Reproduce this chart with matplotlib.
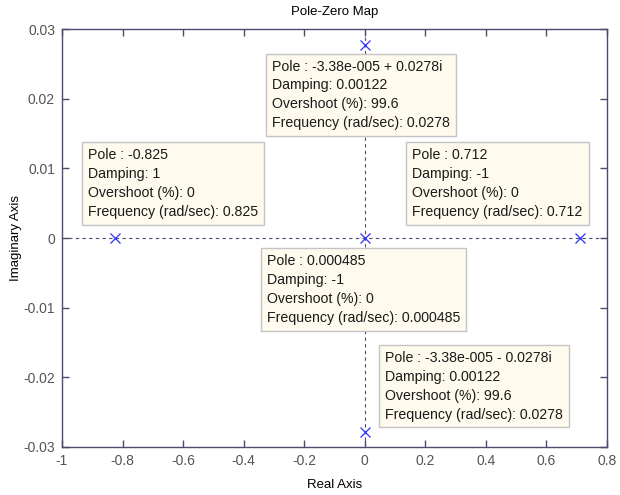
import numpy as np
import matplotlib
matplotlib.use("Agg")
import matplotlib.pyplot as plt

plt.rcParams["font.family"] = ["Liberation Sans", "DejaVu Sans"]

# poles of the system
pole_re = [-0.825, 0.712, 0.000485, -3.38e-5, -3.38e-5]
pole_im = [0.0, 0.0, 0.0, 0.0278, -0.0278]
damping = ["1", "-1", "-1", "0.00122", "0.00122"]
overshoot = ["0", "0", "0", "99.6", "99.6"]
freq = ["0.825", "0.712", "0.000485", "0.0278", "0.0278"]
pole_txt = ["-0.825", "0.712", "0.000485", "-3.38e-005 + 0.0278i", "-3.38e-005 - 0.0278i"]

xticks = [-1, -0.8, -0.6, -0.4, -0.2, 0, 0.2, 0.4, 0.6, 0.8]
yticks = [-0.03, -0.02, -0.01, 0, 0.01, 0.02, 0.03]

# where each data tip sits relative to its pole (pixels)
tip_off = [(-27, 90), (-168, 90), (-98, -16), (-93, -15), (20, 81)]

axcol = "#4b4b6e"
fig = plt.figure(figsize=(6.2, 4.95), dpi=100)
ax = fig.add_axes([0.1, 0.097, 0.879, 0.844])
ax.set_xlim(-1, 0.8)
ax.set_ylim(-0.03, 0.03)

ax.axhline(0, color=axcol, ls=(0, (3, 3)), lw=0.8, zorder=1)
ax.axvline(0, color=axcol, ls=(0, (3, 3)), lw=0.8, zorder=1)
ax.plot(pole_re, pole_im, "x", color="#3030ff", ms=6.5, mew=0.9, ls="none", zorder=3)

for i in range(len(pole_re)):
    s = (f"Pole : {pole_txt[i]}\nDamping: {damping[i]}\n"
         f"Overshoot (%): {overshoot[i]}\nFrequency (rad/sec): {freq[i]}")
    ax.annotate(s, xy=(pole_re[i], pole_im[i]), xytext=tip_off[i],
                textcoords="offset pixels", ha="left", va="top",
                fontsize=10.2, color="#1a1a1a", linespacing=1.45, zorder=4,
                bbox=dict(boxstyle="square,pad=0.42", fc="#fffaee", ec="#c4c4c4", lw=1.0))

ax.set_xticks(xticks)
ax.set_xticklabels([f"{v:g}" for v in xticks])
ax.set_yticks(yticks)
ax.set_yticklabels([f"{v:g}" for v in yticks])
ax.tick_params(direction="in", length=5, color=axcol, labelcolor="#555555",
               labelsize=10, top=True, right=True, width=1, pad=5)
for sp in ax.spines.values():
    sp.set_color(axcol)
    sp.set_linewidth(1.0)

ax.set_title("Pole-Zero Map", fontsize=9.5, pad=10)
ax.set_xlabel("Real Axis", fontsize=9.5, labelpad=8)
ax.set_ylabel("Imaginary Axis", fontsize=9.5, labelpad=1)

fig.savefig("out.png", dpi=100)
